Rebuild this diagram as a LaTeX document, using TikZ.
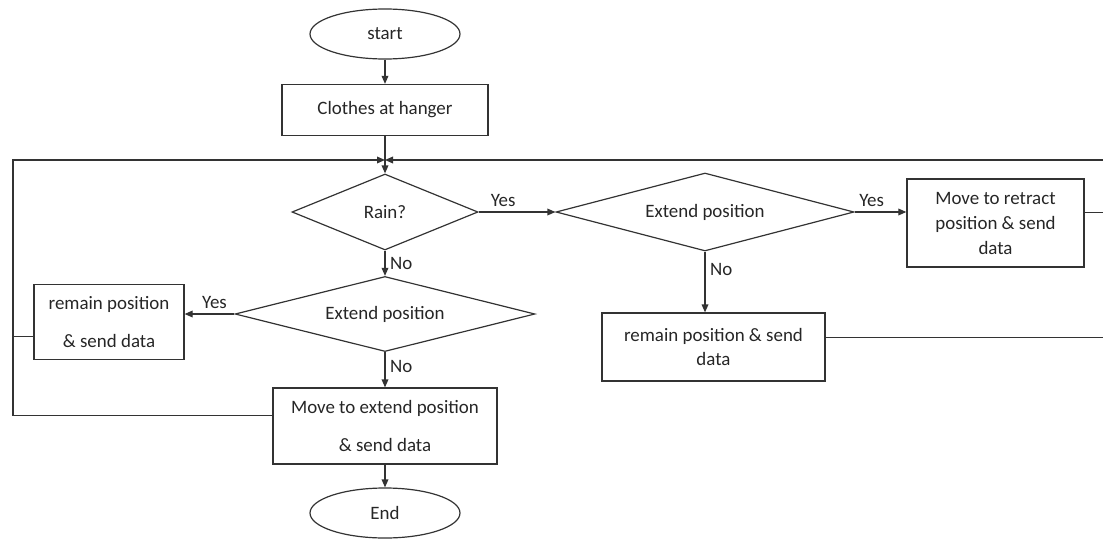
\documentclass[tikz,border=0pt]{standalone}
\usepackage{fontspec}
\setmainfont{Carlito}
\usetikzlibrary{shapes.geometric,arrows.meta}
\begin{document}
\begin{tikzpicture}[x=0.75pt, y=-0.75pt,
  every node/.style={font=\fontsize{14.2}{16}\selectfont, text=black!85},
  box/.style={draw=black!80, line width=0.9pt, align=center, inner sep=0pt},
  term/.style={draw=black!80, line width=0.9pt, ellipse, minimum width=112.5pt, minimum height=37.5pt, inner sep=0pt},
  choice/.style={draw=black!80, line width=0.9pt, diamond, aspect=3, inner sep=0pt},
  link/.style={draw=black!80, line width=0.9pt},
  arr/.style={link, -{Triangle[length=6pt,width=5pt]}}]
  \useasboundingbox (0,0) rectangle (1103,539);
  % main column
  \node[term] (start) at (385,34) {start};
  \node[box, minimum width=154.5pt, minimum height=38.3pt] (hanger) at (385,110) {Clothes at hanger};
  \coordinate (join) at (385,160);
  \node[choice, minimum width=139.5pt, minimum height=57pt] (rain) at (385,212) {Rain?};
  \node[choice, minimum width=225pt, minimum height=56.3pt] (extL) at (385,314) {Extend position};
  \node[box, minimum width=112.5pt, minimum height=56.3pt] (remL) at (109,322) {remain position\\[12.5pt]\& send data};
  \node[box, minimum width=168pt, minimum height=57pt] (moveExt) at (385,426) {Move to extend position\\[12.5pt]\& send data};
  \node[term] (end) at (385,513) {End};
  % right branch
  \node[choice, minimum width=223.5pt, minimum height=58.5pt] (extR) at (705,212) {Extend position};
  \node[box, minimum width=132.8pt, minimum height=66pt] (retract) at (995.5,223) {Move to retract\\[2.75pt]position \& send\\[2.75pt]data};
  \node[box, minimum width=167.3pt, minimum height=51pt] (remR) at (713.5,347) {remain position \& send\\[1.5pt]data};
  % loop ends
  \coordinate (loopL) at (13,160);
  \coordinate (edgeT) at (1103,160);
  % connectors
  \draw[arr] (start) -- (hanger);
  \draw[link] (hanger) -- (join);
  \draw[arr] (join) -- (rain);
  \draw[arr] (rain) -- node[right, pos=0.5]{No} (extL);
  \draw[arr] (rain.east) -- node[above, pos=0.32]{Yes} (extR.west);
  \draw[arr] (extL.west) -- node[above, pos=0.4]{Yes} (extL.west -| remL.east);
  \draw[arr] (extL) -- node[right, pos=0.4]{No} (moveExt);
  \draw[arr] (moveExt) -- (end);
  \draw[arr] (extR.east) -- node[above, pos=0.33]{Yes} (extR.east -| retract.west);
  \draw[arr] (extR.south) -- node[right, pos=0.3]{No} (extR.south |- remR.north);
  % back to the top
  \draw[arr] ([yshift=8pt]moveExt.west) -| (loopL) -- (join);
  \draw[link] ([yshift=-11pt]remL.west) -- ([yshift=-11pt]remL.west -| loopL);
  \draw[arr] (edgeT) -- (join);
  \draw[link] ([yshift=8pt]retract.east) -- ([yshift=8pt]retract.east -| edgeT);
  \draw[link] ([yshift=7pt]remR.east) -- ([yshift=7pt]remR.east -| edgeT);
\end{tikzpicture}
\end{document}
